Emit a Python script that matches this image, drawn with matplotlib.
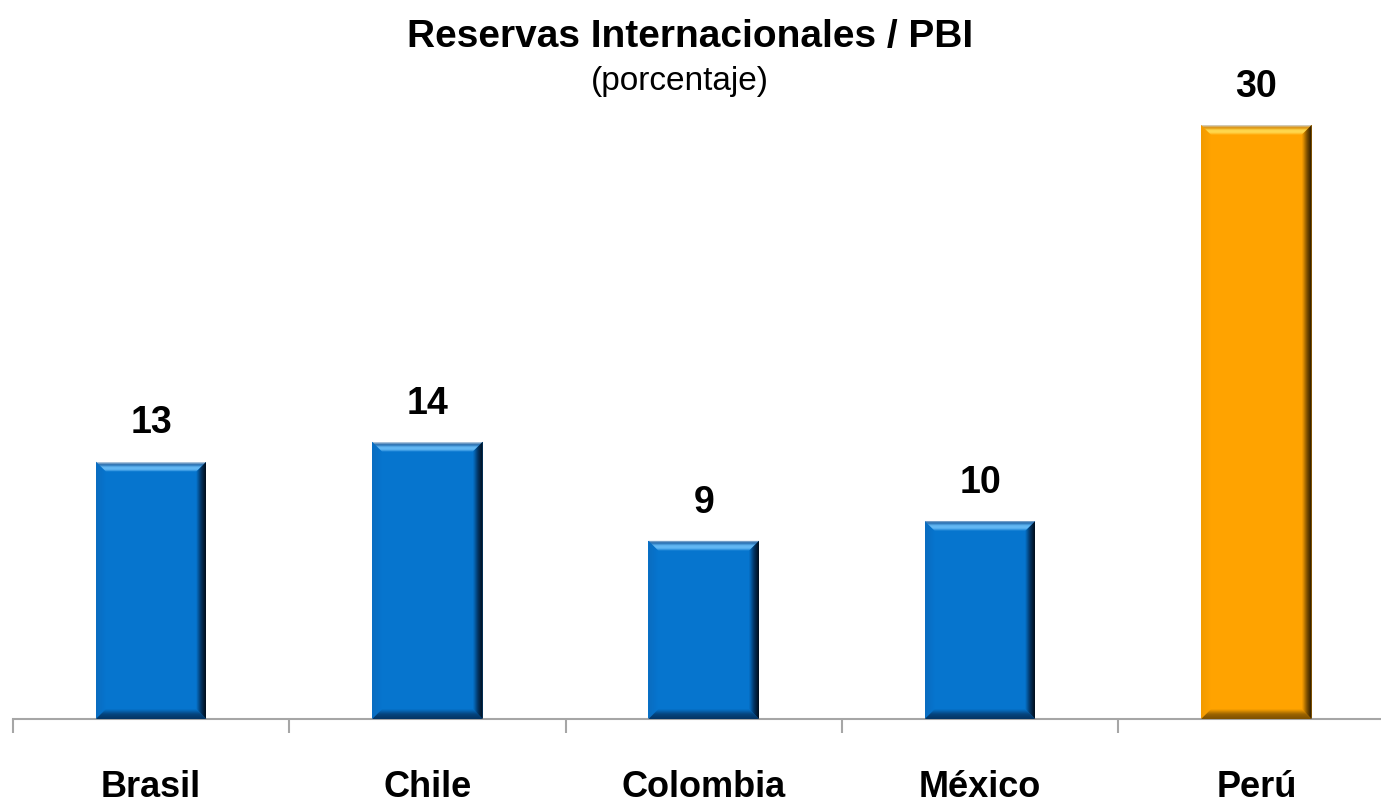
import numpy as np
import matplotlib.pyplot as plt
from matplotlib.patches import Polygon
from matplotlib.colors import LinearSegmentedColormap

# === Data ===
paises = ["Brasil", "Chile", "Colombia", "México", "Perú"]
valores = [13, 14, 9, 10, 30]
resaltado = "Perú"

titulo = "Reservas Internacionales / PBI"
subtitulo = "(porcentaje)"

# bevel palettes
paleta_azul = {"main": "#0675CE", "top_hi": "#63B8F4", "top_edge": "#1D64A8",
               "right_dk": "#033463", "right_out": "#010C18",
               "bottom": "#05457F", "left": "#0A6CC0"}
paleta_naranja = {"main": "#FFA300", "top_hi": "#FFD84E", "top_edge": "#D98A00",
                  "right_dk": "#7E5000", "right_out": "#201400",
                  "bottom": "#9C6400", "left": "#F29A00"}

plt.rcParams['font.family'] = ['Liberation Sans Narrow', 'Liberation Sans', 'DejaVu Sans']

W, H = 1381, 804
fig = plt.figure(figsize=(W / 100, H / 100), dpi=100)

px_cat = 276.3          # pixels per category
base_px = 720           # axis line position from top
ymax = 36.36
ax = fig.add_axes([13 / W, (H - base_px) / H, 5 * px_cat / W, base_px / H])
ax.set_xlim(-0.5, len(paises) - 0.5)
ax.set_ylim(0, ymax)

ancho = 0.4
bx = 10 / px_cat                      # bevel size in data units
by = 10 / (base_px / ymax)


def gradient_fill(poly_xy, colors, direction, extent):
    cmap = LinearSegmentedColormap.from_list("g", colors)
    grad = np.linspace(0, 1, 64)
    img = grad[None, :] if direction == "x" else grad[:, None]
    im = ax.imshow(img, cmap=cmap, extent=extent, origin="lower", aspect="auto",
                   interpolation="bicubic", zorder=3)
    patch = Polygon(poly_xy, closed=True, fc="none", ec="none")
    ax.add_patch(patch)
    im.set_clip_path(patch)


xs = np.arange(len(paises))
for x, v, p in zip(xs, valores, paises):
    pal = paleta_naranja if p == resaltado else paleta_azul
    bar = ax.bar(x, v, width=ancho, color=pal["main"], zorder=2)[0]
    x0, x1 = bar.get_x(), bar.get_x() + bar.get_width()
    y0, y1 = 0, bar.get_height()
    # left and bottom bevels
    gradient_fill([(x0, y0), (x0, y1), (x0 + bx, y1 - by), (x0 + bx, y0 + by)],
                  [pal["left"], pal["main"]], "x", (x0, x0 + bx, y0, y1))
    gradient_fill([(x0, y0), (x1, y0), (x1 - bx, y0 + by), (x0 + bx, y0 + by)],
                  [pal["right_dk"], pal["bottom"], pal["main"]], "y", (x0, x1, y0, y0 + by))
    # top bevel
    gradient_fill([(x0, y1), (x1, y1), (x1 - bx, y1 - by), (x0 + bx, y1 - by)],
                  [pal["main"], pal["top_hi"], pal["top_hi"], pal["top_edge"], "#D0DCE8"], "y",
                  (x0, x1, y1 - by, y1))
    # right bevel
    gradient_fill([(x1, y1), (x1, y0), (x1 - bx, y0 + by), (x1 - bx, y1 - by)],
                  [pal["main"], pal["right_dk"], pal["right_out"]], "x",
                  (x1 - bx, x1, y0, y1))
    ax.annotate(str(v), (x, v), xytext=(0, 21), textcoords="offset points",
                ha="center", va="baseline", fontsize=27, fontweight="bold")
    ax.annotate(p, (x, 0), xytext=(0, -55.5), textcoords="offset points",
                ha="center", va="baseline", fontsize=26, fontweight="bold",
                annotation_clip=False)

ax.set_xlim(-0.5, len(paises) - 0.5)
ax.set_ylim(0, ymax)

# axis: only the baseline with ticks at category boundaries
for s in ["top", "right", "left"]:
    ax.spines[s].set_visible(False)
ax.spines["bottom"].set_color("#A6A6A6")
ax.spines["bottom"].set_linewidth(1.5)
ax.set_yticks([])
ax.set_xticks(np.arange(len(paises) + 1) - 0.5)
ax.set_xticklabels([])
ax.tick_params(axis="x", length=10, width=1.5, color="#A6A6A6", direction="out")

fig.text(0.5, 1 - 47 / H, titulo, ha="center", va="baseline", fontsize=28,
         fontweight="bold")
fig.text(680 / W, 1 - 90 / H, subtitulo, ha="center", va="baseline", fontsize=24)

plt.savefig("out.png", dpi=100)
